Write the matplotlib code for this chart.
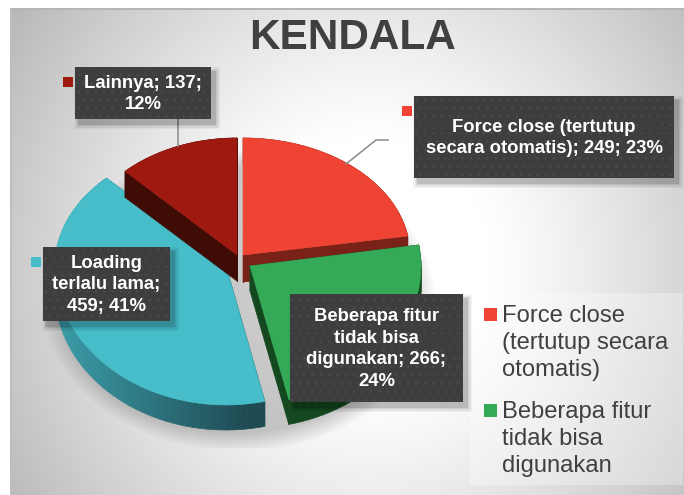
import numpy as np
import matplotlib
matplotlib.use("Agg")
import matplotlib.pyplot as plt
from matplotlib.patches import Rectangle, Polygon
from matplotlib.collections import PolyCollection
from matplotlib.path import Path

plt.rcParams['hatch.linewidth'] = 0.3
plt.rcParams['font.family'] = ['Liberation Sans', 'DejaVu Sans']

categories = ['Force close (tertutup secara otomatis)', 'Beberapa fitur tidak bisa digunakan',
              'Loading terlalu lama', 'Lainnya']
values = [249, 266, 459, 137]
percents = ['23%', '24%', '41%', '12%']
colors = ['#ef4433', '#34aa57', '#46bdc9', '#9e1a10']
wall_colors = ['#7a2218', '#14491f', None, '#3f0b05']
title = 'KENDALA'

W, H = 684, 495
fig = plt.figure(figsize=(W / 100, H / 100), dpi=100)
ax = fig.add_axes([0, 0, 1, 1])

# pie drawn in unit space, then projected to a tilted perspective
wedges, _ = ax.pie(values, startangle=90, counterclock=False, colors=colors, radius=1)
ax.set_aspect('auto')
ax.set_xlim(0, W)
ax.set_ylim(H, 0)
ax.axis('off')

# background
yy, xx = np.mgrid[0:H, 0:W]
d = np.sqrt((xx - 370.0) ** 2 + ((yy - 265.0) * 0.95) ** 2)
g = 255 - 68 * np.clip((d - 120) / 300, 0, 1.15) ** 1.15
bg = np.dstack([g, g, g]) / 255
bg[:8, :, :] = 1
bg[:, :10, :] = 1
ax.imshow(bg, extent=(0, W, H, 0), aspect='auto', zorder=0, interpolation='nearest')
ax.set_xlim(0, W)
ax.set_ylim(H, 0)
ax.add_patch(Rectangle((10, 8), 2, H - 8, fc='#bdbdbd', ec='none', zorder=0.5))
ax.add_patch(Rectangle((10, 8), W - 10, 2, fc='#b5b5b5', ec='none', zorder=0.5))

# soft shadow below the pie
r = np.sqrt(((xx - 238.0) / 192) ** 2 + ((yy - 300.0) / 147) ** 2)
sh = np.zeros((H, W, 4))
sh[..., 3] = 0.2 * np.clip((1.03 - r) / 0.13, 0, 1)
sh[yy > 447, 3] = 0
ax.imshow(sh, extent=(0, W, H, 0), aspect='auto', zorder=1, interpolation='bilinear')
ax.set_xlim(0, W)
ax.set_ylim(H, 0)

# per-slice projection: cx, cy, rx, r_back, r_front
geom = [
    (243, 255, 167, 117, 117),
    (250, 266, 171, 130, 137),
    (226, 266, 171, 123, 139),
    (237, 255, 160, 117, 119),
]
depths = [27, 25, 25, 26]
draw_order = [2, 3, 0, 1]


def teal_wall(x):
    t = np.clip((x - 60) / 190, 0, 1)
    a = np.array([0x3a, 0x9c, 0xa8]) / 255
    b = np.array([0x1e, 0x4a, 0x52]) / 255
    return tuple(a + (b - a) * t)


for z, i in enumerate(draw_order):
    w = wedges[i]
    p = w.get_patch_transform().transform_path(w.get_path())
    poly = Path(p.vertices * 600, p.codes).to_polygons(closed_only=True)[0] / 600
    w.remove()
    cx, cy, rx, rb, rf = geom[i]
    pts = np.column_stack([cx + rx * poly[:, 0],
                           cy - poly[:, 1] * np.where(poly[:, 1] > 0, rb, rf)])
    dep = depths[i]
    quads, cols = [], []
    for a, b in zip(pts[:-1], pts[1:]):
        quads.append([a, b, b + [0, dep], a + [0, dep]])
        cols.append(teal_wall((a[0] + b[0]) / 2) if wall_colors[i] is None else wall_colors[i])
    ax.add_collection(PolyCollection(quads, facecolors=cols, edgecolors=cols, linewidths=0.5,
                                     zorder=2 + z * 0.2))
    ax.add_patch(Polygon(pts, closed=True, fc=colors[i], ec=colors[i], lw=0.4, zorder=2.1 + z * 0.2))

# leader lines
ax.plot([178, 178], [119, 146], color='#8a8a8a', lw=1.1, zorder=3)
ax.plot([346, 376, 388], [164, 140, 140], color='#8a8a8a', lw=1.1, zorder=3)


def label(x0, y0, x1, y1, text, cy, fs=13.3):
    for k, a in zip((5, 3.5, 2, 0.8), (0.04, 0.06, 0.08, 0.10)):
        ax.add_patch(Rectangle((x0 + 4 - k, y0 + 5 - k), x1 - x0 + 2 * k, y1 - y0 + 2 * k,
                               fc='black', alpha=a, ec='none', zorder=4))
    ax.add_patch(Rectangle((x0, y0), x1 - x0, y1 - y0, fc='#3e3e3e', ec='#4e4e4e', lw=0,
                           hatch='..', zorder=4.5))
    ax.text((x0 + x1) / 2, cy, text, color='white', fontweight='bold', fontsize=fs, ha='center',
            va='center', linespacing=1.34, zorder=5)


label(414, 96, 674, 178, f'Force close (tertutup\nsecara otomatis); {values[0]}; {percents[0]}', 138)
label(290, 294, 463, 402, f'Beberapa fitur\ntidak bisa\ndigunakan; {values[1]};\n{percents[1]}', 349)
label(43, 247, 170, 321, f'Loading\nterlalu lama;\n{values[2]}; {percents[2]}', 285)
label(75, 67, 211, 119, f'{categories[3]}; {values[3]};\n{percents[3]}', 94)

for (x, y), c in zip([(402, 106), (31, 257), (63, 77)], [colors[0], colors[2], colors[3]]):
    ax.add_patch(Rectangle((x, y), 10, 10, fc=c, ec='none', zorder=5))

# legend
ax.add_patch(Rectangle((470, 293), 213, 192, fc='white', alpha=0.3, ec='none', zorder=2))
legend_lines = ['Force close\n(tertutup secara\notomatis)', 'Beberapa fitur\ntidak bisa\ndigunakan']
for txt, c, y in zip(legend_lines, colors[:2], [308, 404]):
    ax.add_patch(Rectangle((484, y), 13, 13, fc=c, ec='none', zorder=5))
    ax.text(502, y + 35, txt, color='#404040', fontsize=17.15, ha='left', va='center',
            linespacing=1.31, zorder=5)

ax.text(352, 38, title, color='#404040', fontsize=30.4, fontweight='bold', ha='center', va='center', zorder=5)

fig.savefig('out.png', dpi=100)
